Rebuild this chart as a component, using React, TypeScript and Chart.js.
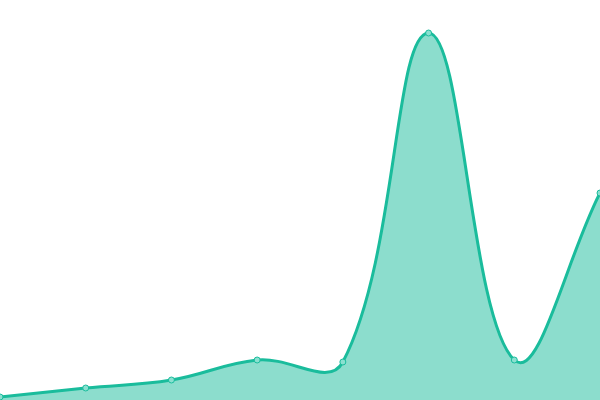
import { useEffect, useRef } from "react";
import { Chart, registerables } from "chart.js";

Chart.register(...registerables);

const LABELS = ["1", "2", "3", "4", "5", "6", "7", "8"];
const VALUES = [3, 12, 20, 40, 38, 367, 40, 207];

const LINE = "#1abc9c";
const FILL = "rgba(26,188,156,0.5)";

export default function App() {
  const canvasRef = useRef<HTMLCanvasElement>(null);

  useEffect(() => {
    document.body.style.margin = "0";
    if (!canvasRef.current) return;
    const chart = new Chart(canvasRef.current, {
      type: "line",
      data: {
        labels: LABELS,
        datasets: [
          {
            data: VALUES,
            borderColor: LINE,
            backgroundColor: FILL,
            borderWidth: 3,
            fill: "origin",
            tension: 0.4,
            pointRadius: 3,
            pointBorderWidth: 1,
            pointBackgroundColor: "#8ae0d0",
            pointBorderColor: LINE,
          },
        ],
      },
      options: {
        responsive: false,
        animation: false,
        layout: { padding: 0, autoPadding: false },
        plugins: { legend: { display: false }, tooltip: { enabled: false } },
        scales: {
          x: { display: false, offset: false },
          y: { display: false, min: 0, max: 400 },
        },
      },
    });
    return () => chart.destroy();
  }, []);

  return (
    <div style={{ width: 600, height: 400 }}>
      <canvas ref={canvasRef} width={600} height={400} style={{ display: "block" }} />
    </div>
  );
}
